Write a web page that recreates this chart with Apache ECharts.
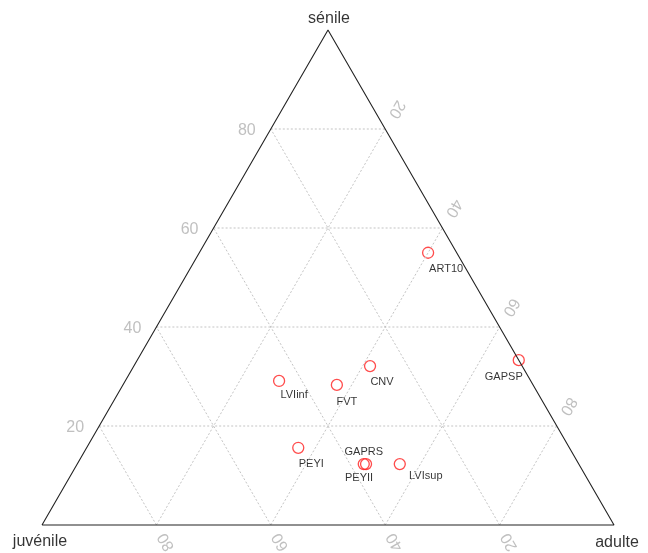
<!DOCTYPE html>
<html>
<head>
<meta charset="utf-8">
<script src="https://cdn.jsdelivr.net/npm/echarts@6/dist/echarts.min.js"></script>
<style>html,body{margin:0;padding:0;background:#fff;}#c{width:648px;height:553px;}</style>
</head>
<body>
<div id="c"></div>
<script>
// ---- data (percent) ----
const sites    = ['ART10','GAPSP','CNV','FVT','LVIinf','PEYI','GAPRS','PEYII','LVIsup'];
const senile   = [55.0, 33.3, 32.1, 28.3, 29.1, 15.6, 12.3, 12.3, 12.3];
const adulte   = [40.0, 66.7, 41.3, 37.4, 26.9, 37.0, 50.1, 50.5, 56.4];
const juvenile = [ 5.0,  0.0, 26.6, 34.3, 44.0, 47.4, 37.6, 37.2, 31.3];
const ticks    = [20, 40, 60, 80];
const axisNames = ['sénile', 'juvénile', 'adulte'];

// ---- styles ----
const labelOffsets = {
  ART10: [18, 16], GAPSP: [-15, 17], CNV: [12, 16], FVT: [10, 17], LVIinf: [15, 14],
  PEYI: [13, 16], GAPRS: [0, -12], PEYII: [-7, 14], LVIsup: [26, 12]
};
const FONT = 'Liberation Sans, Arial, Helvetica, sans-serif';
const SQ = Math.sqrt(3) / 2;
const PXU = 5.72; // approx pixels per data unit
function toXY(a, s) { return [a + s / 2, s * SQ]; }

const series = [];
function seg(p, q, style) {
  series.push({
    type: 'line', data: [p, q], showSymbol: false, symbol: 'none', silent: true,
    clip: false, animation: false,
    lineStyle: style
  });
}
const gridStyle = { color: '#c4c4c4', width: 1, type: [2, 2] };
ticks.forEach(t => {
  seg(toXY(0, t), toXY(100 - t, t), gridStyle);       // senile = t
  seg(toXY(t, 0), toXY(t, 100 - t), gridStyle);       // adulte = t
  seg(toXY(100 - t, 0), toXY(0, 100 - t), gridStyle); // juvenile = t
});
// triangle outline
series.push({
  type: 'line', data: [toXY(0, 0), toXY(100, 0), toXY(0, 100), toXY(0, 0)],
  showSymbol: false, symbol: 'none', silent: true, clip: false, animation: false,
  lineStyle: { color: '#222', width: 1.1 }
});

// tick labels
const tickData = [];
const dL = 24 / PXU, dB = 19.5 / PXU, dR = 23 / PXU;
ticks.forEach(t => {
  let p = toXY(0, t);
  tickData.push({ value: [p[0] - dL, p[1]], name: String(t), label: { rotate: 0, offset: [0, 2] } });
  p = toXY(100 - t, 0);
  tickData.push({ value: [p[0] + dB * 0.5, p[1] - dB * SQ], name: String(t), label: { rotate: 120 } });
  p = toXY(t, 100 - t);
  tickData.push({ value: [p[0] + dR * 0.5, p[1] + dR * SQ], name: String(t), label: { rotate: -120 } });
});
series.push({
  type: 'scatter', data: tickData, symbolSize: 0, silent: true, clip: false, animation: false,
  label: {
    show: true, position: 'inside', formatter: '{b}', color: '#b0b0b0',
    fontSize: 16, fontFamily: FONT, align: 'center', verticalAlign: 'middle'
  }
});

// vertex labels
const vData = [
  { value: toXY(0, 100), name: axisNames[0], label: { offset: [1, -11] } },
  { value: toXY(0, 0), name: axisNames[1], label: { offset: [-2, 17] } },
  { value: toXY(100, 0), name: axisNames[2], label: { offset: [3, 18] } }
];
series.push({
  type: 'scatter', data: vData, symbolSize: 0, silent: true, clip: false, animation: false,
  label: {
    show: true, position: 'inside', formatter: '{b}', color: '#000',
    fontSize: 16, fontFamily: FONT, align: 'center', verticalAlign: 'middle'
  }
});

// points
const pts = sites.map((n, i) => ({
  value: toXY(adulte[i], senile[i]), name: n,
  label: { offset: labelOffsets[n] }
}));
series.push({
  type: 'scatter', data: pts, symbol: 'circle', symbolSize: 11, clip: false, animation: false,
  itemStyle: { color: 'rgba(0,0,0,0)', borderColor: '#ff1f1f', borderWidth: 1.3 },
  label: {
    show: true, position: 'inside', formatter: '{b}', color: '#000',
    fontSize: 11, fontFamily: FONT, align: 'center', verticalAlign: 'middle'
  }
});

const chart = echarts.init(document.getElementById('c'), null, { renderer: 'canvas' });
chart.setOption({
  backgroundColor: '#fff',
  animation: false,
  grid: { left: 42, top: 30, width: 572, height: 495, containLabel: false },
  xAxis: { type: 'value', min: 0, max: 100, show: false },
  yAxis: { type: 'value', min: 0, max: 100 * SQ, show: false },
  series: series
});
</script>
</body>
</html>
